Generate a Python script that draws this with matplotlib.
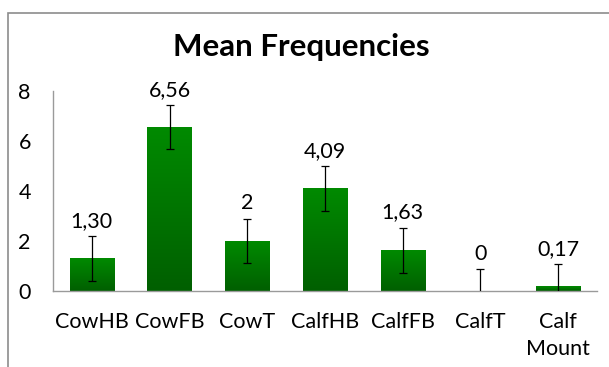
import numpy as np
import matplotlib
matplotlib.use("agg")
from matplotlib import pyplot as plt
from matplotlib.patches import Rectangle

# data
categories = ["CowHB", "CowFB", "CowT", "CalfHB", "CalfFB", "CalfT", "Calf\nMount"]
means = [1.30, 6.56, 2.0, 4.09, 1.63, 0.0, 0.17]
errors = [0.89, 0.87, 0.88, 0.90, 0.89, 0.87, 0.90]
value_labels = ["1,30", "6,56", "2", "4,09", "1,63", "0", "0,17"]
yticks = [0, 2, 4, 6, 8]

font = "Lato"
fig = plt.figure(figsize=(6.09, 3.67), dpi=100)
fig.patch.set_facecolor("white")
# outer chart frame (left/top edges visible)
fig.add_artist(Rectangle((8 / 609, -0.1), 1.2, 1 - 13 / 367 + 0.1,
                         transform=fig.transFigure, fill=False,
                         edgecolor="#8c8c8c", lw=1.2))

ax = fig.add_axes([53 / 609, 76 / 367, 544 / 609, 200 / 367])
x = np.arange(len(categories))
width = 0.57
bars = ax.bar(x, means, width, color="none", edgecolor="none", zorder=2)

# vertical green gradient inside each bar
grad = np.linspace(0, 1, 256).reshape(-1, 1)
cmap = matplotlib.colors.LinearSegmentedColormap.from_list(
    "g", ["#005f00", "#008a00"])
for b in bars:
    h = b.get_height()
    if h <= 0:
        continue
    x0 = b.get_x()
    ax.imshow(grad, extent=(x0, x0 + width, 0, h), origin="lower",
              cmap=cmap, aspect="auto", zorder=2)

ax.errorbar(x, means, yerr=errors, fmt="none", ecolor="black",
            elinewidth=0.9, capsize=3, capthick=0.9, zorder=3)

for xi, m, e, lab in zip(x, means, errors, value_labels):
    ax.annotate(lab, (xi, m + e), xytext=(0, 4), textcoords="offset points",
                ha="center", va="bottom", fontsize=15.5, family=font)

ax.set_xlim(-0.5, len(categories) - 0.5)
ax.set_ylim(0, 8)
ax.set_yticks(yticks)
ax.set_yticklabels([str(t) for t in yticks], family=font, fontsize=15.5)
ax.set_xticks(x)
ax.set_xticklabels(categories, family=font, fontsize=15.5, linespacing=1.45)
ax.tick_params(axis="both", length=0)
ax.tick_params(axis="y", pad=16)
ax.tick_params(axis="x", pad=15)
for s in ["top", "right"]:
    ax.spines[s].set_visible(False)
for s in ["left", "bottom"]:
    ax.spines[s].set_color("#9a9a9a")
    ax.spines[s].set_linewidth(1.0)

fig.text(0.495, 1 - 47 / 367, "Mean Frequencies", ha="center", va="center",
         fontsize=22.5, fontweight="bold", family=font)

fig.savefig("out.png", dpi=100)
